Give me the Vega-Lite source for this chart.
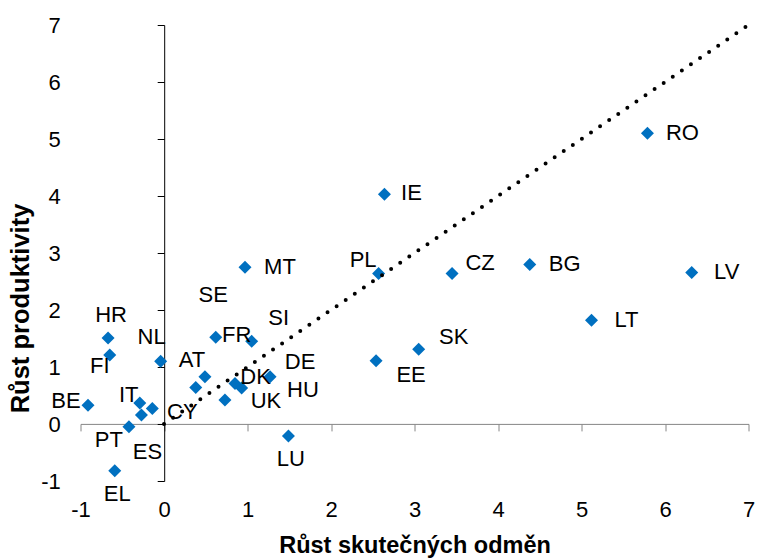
{
  "$schema": "https://vega.github.io/schema/vega-lite/v6.json",
  "width": 668,
  "height": 456,
  "autosize": {"type": "none"},
  "padding": {"left": 80.5, "top": 25, "right": 11.5, "bottom": 77},
  "background": "white",
  "config": {
    "view": {"stroke": null},
    "text": {"font": "Liberation Sans", "fontSize": 22, "align": "center", "baseline": "middle", "color": "#000000"}
  },
  "datasets": {
    "eu": [
      {"k": "RO", "x": 5.79, "y": 5.10},
      {"k": "IE", "x": 2.64, "y": 4.03},
      {"k": "MT", "x": 0.97, "y": 2.75},
      {"k": "PL", "x": 2.57, "y": 2.64},
      {"k": "CZ", "x": 3.45, "y": 2.64},
      {"k": "BG", "x": 4.38, "y": 2.80},
      {"k": "LV", "x": 6.32, "y": 2.66},
      {"k": "LT", "x": 5.12, "y": 1.82},
      {"k": "SK", "x": 3.05, "y": 1.31},
      {"k": "EE", "x": 2.54, "y": 1.11},
      {"k": "LU", "x": 1.49, "y": -0.21},
      {"k": "HR", "x": -0.67, "y": 1.51},
      {"k": "FI", "x": -0.65, "y": 1.21},
      {"k": "NL", "x": -0.04, "y": 1.10},
      {"k": "BE", "x": -0.91, "y": 0.33},
      {"k": "EL", "x": -0.59, "y": -0.82},
      {"k": "PT", "x": -0.42, "y": -0.05},
      {"k": "IT", "x": -0.29, "y": 0.37},
      {"k": "ES", "x": -0.27, "y": 0.16},
      {"k": "CY", "x": -0.14, "y": 0.27},
      {"k": "FR", "x": 0.62, "y": 1.52},
      {"k": "SI", "x": 1.05, "y": 1.45},
      {"k": "AT", "x": 0.49, "y": 0.83},
      {"k": "SE", "x": 0.38, "y": 0.64},
      {"k": "HU", "x": 0.85, "y": 0.71},
      {"k": "DK", "x": 0.93, "y": 0.63},
      {"k": "DE", "x": 1.27, "y": 0.83},
      {"k": "UK", "x": 0.73, "y": 0.42}
    ]
  },
  "encoding": {
    "x": {
      "field": "x", "type": "quantitative",
      "scale": {"domain": [-1, 7], "nice": false, "zero": false},
      "axis": {
        "title": "Růst skutečných odměn",
        "values": [-1, 0, 1, 2, 3, 4, 5, 6, 7],
        "labelExpr": "'' + datum.value",
        "grid": false, "offset": -57.1,
        "domainColor": "#868686", "tickColor": "#868686", "tickSize": 7, "domainWidth": 1, "tickWidth": 1,
        "labelPadding": 69, "labelFont": "Liberation Sans", "labelFontSize": 22, "labelColor": "#000000",
        "labelFlush": false, "labelOverlap": false,
        "titleFont": "Liberation Sans", "titleFontSize": 23.5, "titleFontWeight": "bold", "titleColor": "#000000",
        "titleX": 334, "titleY": 129, "titleAlign": "center", "titleBaseline": "alphabetic"
      }
    },
    "y": {
      "field": "y", "type": "quantitative",
      "scale": {"domain": [-1, 7], "nice": false, "zero": false},
      "axis": {
        "title": "Růst produktivity",
        "values": [-1, 0, 1, 2, 3, 4, 5, 6, 7],
        "labelExpr": "'' + datum.value",
        "grid": false, "offset": -83.7,
        "domainColor": "#000000", "tickColor": "#000000", "tickSize": 7, "domainWidth": 1, "tickWidth": 1,
        "labelPadding": 97, "labelFont": "Liberation Sans", "labelFontSize": 22, "labelColor": "#000000",
        "labelFlush": false, "labelOverlap": false,
        "titleFont": "Liberation Sans", "titleFontSize": 25.5, "titleFontWeight": "bold", "titleColor": "#000000",
        "titleX": -144, "titleY": 283, "titleAngle": 270, "titleAlign": "center", "titleBaseline": "middle"
      }
    }
  },
  "layer": [
    {
      "data": {"name": "eu"},
      "mark": {"type": "point", "shape": "diamond", "filled": true, "color": "#0070C0", "size": 169, "opacity": 1}
    },
    {
      "data": {"values": [{"x": 0, "y": 0}, {"x": 7, "y": 7}]},
      "mark": {"type": "line", "color": "#000000", "strokeWidth": 4, "strokeDash": [0, 11], "strokeCap": "round"}
    },
    {
      "data": {"values": [{}]},
      "mark": {"type": "text", "align": "left", "font": "Lato", "fontSize": 19, "color": "#1a1a1a"},
      "encoding": {"x": {"datum": 4.225}, "y": {"datum": 6.2}, "text": {"value": "přímka 45º"}}
    },
    {"data": {"name": "eu"}, "transform": [{"filter": {"field": "k", "oneOf": ["RO", "MT", "BG", "LV", "LT"]}}], "mark": {"type": "text", "dx": 35, "dy": 0}, "encoding": {"text": {"field": "k"}}},
    {"data": {"name": "eu"}, "transform": [{"filter": {"field": "k", "equal": "IE"}}], "mark": {"type": "text", "dx": 27, "dy": -1}, "encoding": {"text": {"field": "k"}}},
    {"data": {"name": "eu"}, "transform": [{"filter": {"field": "k", "equal": "PL"}}], "mark": {"type": "text", "dx": -15.5, "dy": -14}, "encoding": {"text": {"field": "k"}}},
    {"data": {"name": "eu"}, "transform": [{"filter": {"field": "k", "equal": "CZ"}}], "mark": {"type": "text", "dx": 28, "dy": -11}, "encoding": {"text": {"field": "k"}}},
    {"data": {"name": "eu"}, "transform": [{"filter": {"field": "k", "equal": "SK"}}], "mark": {"type": "text", "dx": 35, "dy": -12}, "encoding": {"text": {"field": "k"}}},
    {"data": {"name": "eu"}, "transform": [{"filter": {"field": "k", "equal": "EE"}}], "mark": {"type": "text", "dx": 35, "dy": 14}, "encoding": {"text": {"field": "k"}}},
    {"data": {"name": "eu"}, "transform": [{"filter": {"field": "k", "oneOf": ["LU", "EL"]}}], "mark": {"type": "text", "dx": 2.5, "dy": 23}, "encoding": {"text": {"field": "k"}}},
    {"data": {"name": "eu"}, "transform": [{"filter": {"field": "k", "equal": "HR"}}], "mark": {"type": "text", "dx": 3, "dy": -23}, "encoding": {"text": {"field": "k"}}},
    {"data": {"name": "eu"}, "transform": [{"filter": {"field": "k", "equal": "FI"}}], "mark": {"type": "text", "dx": -10, "dy": 11}, "encoding": {"text": {"field": "k"}}},
    {"data": {"name": "eu"}, "transform": [{"filter": {"field": "k", "equal": "NL"}}], "mark": {"type": "text", "dx": -9, "dy": -24}, "encoding": {"text": {"field": "k"}}},
    {"data": {"name": "eu"}, "transform": [{"filter": {"field": "k", "equal": "BE"}}], "mark": {"type": "text", "dx": -22, "dy": -4}, "encoding": {"text": {"field": "k"}}},
    {"data": {"name": "eu"}, "transform": [{"filter": {"field": "k", "equal": "PT"}}], "mark": {"type": "text", "dx": -20, "dy": 13}, "encoding": {"text": {"field": "k"}}},
    {"data": {"name": "eu"}, "transform": [{"filter": {"field": "k", "equal": "IT"}}], "mark": {"type": "text", "dx": -11, "dy": -8}, "encoding": {"text": {"field": "k"}}},
    {"data": {"name": "eu"}, "transform": [{"filter": {"field": "k", "equal": "ES"}}], "mark": {"type": "text", "dx": 6, "dy": 37}, "encoding": {"text": {"field": "k"}}},
    {"data": {"name": "eu"}, "transform": [{"filter": {"field": "k", "equal": "CY"}}], "mark": {"type": "text", "dx": 30, "dy": 3}, "encoding": {"text": {"field": "k"}}},
    {"data": {"name": "eu"}, "transform": [{"filter": {"field": "k", "equal": "FR"}}], "mark": {"type": "text", "dx": 21, "dy": -2}, "encoding": {"text": {"field": "k"}}},
    {"data": {"name": "eu"}, "transform": [{"filter": {"field": "k", "equal": "SI"}}], "mark": {"type": "text", "dx": 27, "dy": -23}, "encoding": {"text": {"field": "k"}}},
    {"data": {"name": "eu"}, "transform": [{"filter": {"field": "k", "equal": "AT"}}], "mark": {"type": "text", "dx": -13, "dy": -17}, "encoding": {"text": {"field": "k"}}},
    {"data": {"name": "eu"}, "transform": [{"filter": {"field": "k", "equal": "SE"}}], "mark": {"type": "text", "dx": 17.5, "dy": -93}, "encoding": {"text": {"field": "k"}}},
    {"data": {"name": "eu"}, "transform": [{"filter": {"field": "k", "equal": "HU"}}], "mark": {"type": "text", "dx": 68, "dy": 6}, "encoding": {"text": {"field": "k"}}},
    {"data": {"name": "eu"}, "transform": [{"filter": {"field": "k", "equal": "DK"}}], "mark": {"type": "text", "dx": 14, "dy": -11}, "encoding": {"text": {"field": "k"}}},
    {"data": {"name": "eu"}, "transform": [{"filter": {"field": "k", "equal": "DE"}}], "mark": {"type": "text", "dx": 30, "dy": -15}, "encoding": {"text": {"field": "k"}}},
    {"data": {"name": "eu"}, "transform": [{"filter": {"field": "k", "equal": "UK"}}], "mark": {"type": "text", "dx": 41, "dy": 1}, "encoding": {"text": {"field": "k"}}}
  ]
}
